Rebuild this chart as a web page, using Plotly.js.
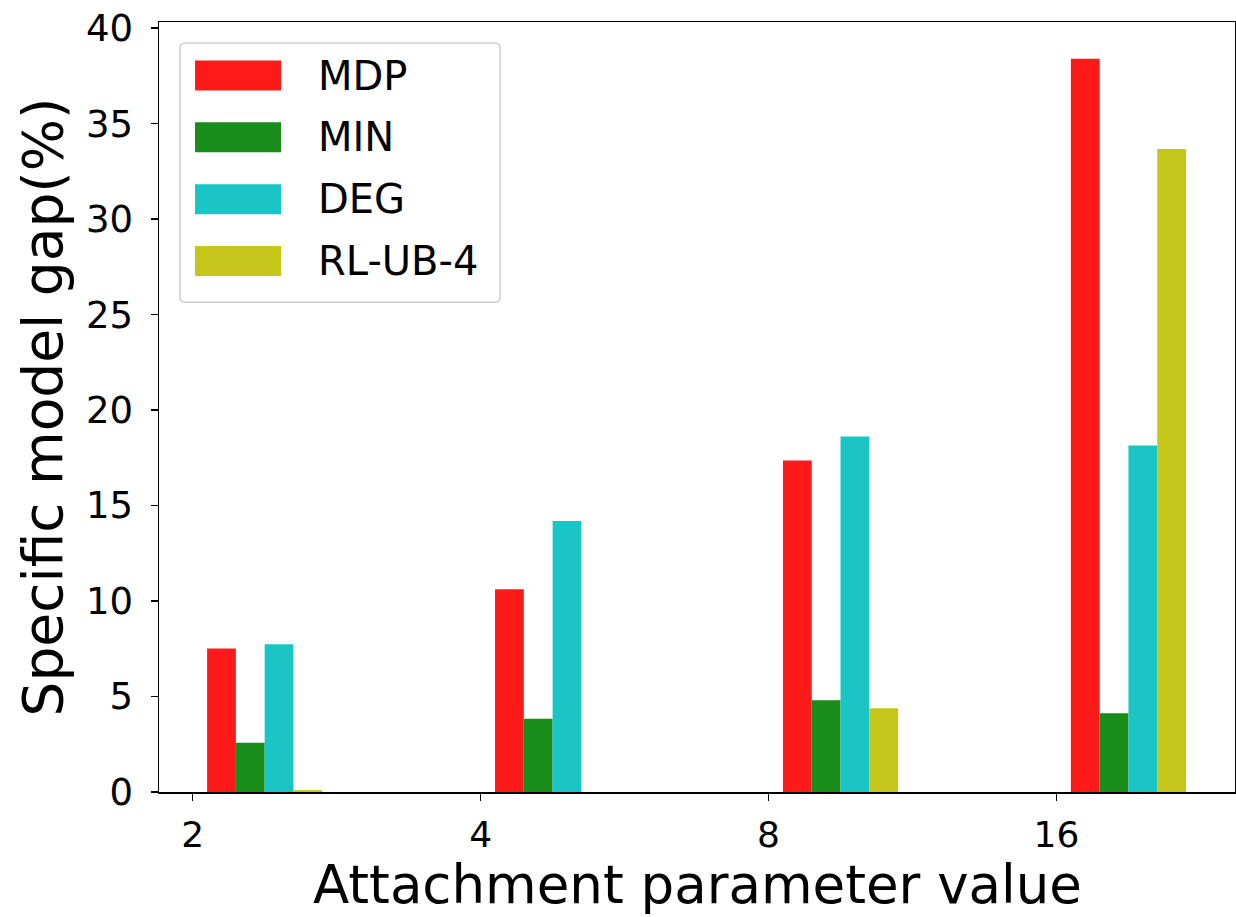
<!DOCTYPE html>
<html>
<head>
<meta charset="utf-8">
<script src="https://cdn.plot.ly/plotly-3.0.1.min.js"></script>
<style>
  html, body { margin: 0; padding: 0; background: #fff; }
  #chart { width: 1236px; height: 917px; }
</style>
</head>
<body>
<div id="chart"></div>
<script>
// ---- data ----
const categories = ['2', '4', '8', '16'];
const seriesNames = ['MDP', 'MIN', 'DEG', 'RL-UB-4'];
const mdp  = [7.52, 10.62, 17.36, 38.4];
const minV = [2.58, 3.83, 4.81, 4.13];
const deg  = [7.74, 14.19, 18.62, 18.15];
const rlub = [0.1, 0.0, 4.38, 33.67];
const seriesColors = ['#ff1a1a', '#1a8c1a', '#1ac5c5', '#c5c51a'];
const xTitle = 'Attachment parameter value';
const yTitle = 'Specific model gap(%)';

const seriesValues = [mdp, minV, deg, rlub];
const FONT = 'DejaVu Sans, Verdana, sans-serif';

const barWidth = 0.1;
const traces = seriesValues.map((vals, i) => ({
  type: 'bar',
  name: seriesNames[i],
  x: categories,
  y: vals,
  width: barWidth,
  offset: 0.05 + barWidth * i,
  marker: { color: seriesColors[i], line: { width: 0 } },
  showlegend: false,
  hoverinfo: 'x+y+name'
}));

// custom matplotlib-like legend (wide patches) in paper coordinates
const shapes = [];
const annotations = [];
const lg = { x0: 0.0195, x1: 0.317, y0: 0.636, y1: 0.9727 };
const rx = 0.005, ry = 0.007;
shapes.push({
  type: 'path', xref: 'paper', yref: 'paper',
  path: `M ${lg.x0 + rx} ${lg.y1} L ${lg.x1 - rx} ${lg.y1} Q ${lg.x1} ${lg.y1} ${lg.x1} ${lg.y1 - ry} ` +
        `L ${lg.x1} ${lg.y0 + ry} Q ${lg.x1} ${lg.y0} ${lg.x1 - rx} ${lg.y0} ` +
        `L ${lg.x0 + rx} ${lg.y0} Q ${lg.x0} ${lg.y0} ${lg.x0} ${lg.y0 + ry} ` +
        `L ${lg.x0} ${lg.y1 - ry} Q ${lg.x0} ${lg.y1} ${lg.x0 + rx} ${lg.y1} Z`,
  fillcolor: 'rgba(255,255,255,0.8)',
  line: { color: '#d0d0d0', width: 1.5 },
  layer: 'above'
});
const rowTop = 0.9305, rowStep = 0.0803, patchH = 0.039;
seriesNames.forEach((name, i) => {
  const yc = rowTop - rowStep * i;
  shapes.push({
    type: 'rect', xref: 'paper', yref: 'paper',
    x0: 0.0335, x1: 0.1134, y0: yc - patchH / 2, y1: yc + patchH / 2,
    fillcolor: seriesColors[i], line: { width: 0 }, layer: 'above'
  });
  annotations.push({
    xref: 'paper', yref: 'paper', x: 0.146, y: yc,
    xanchor: 'left', yanchor: 'middle', showarrow: false,
    text: name, font: { family: FONT, size: 40, color: '#000' }
  });
});

// x-axis title placed as an annotation below the tick labels
annotations.push({
  xref: 'paper', yref: 'paper', x: 0.5, y: 0,
  xanchor: 'center', yanchor: 'top', yshift: -60, showarrow: false,
  text: xTitle, font: { family: FONT, size: 53, color: '#000' }
});

const layout = {
  width: 1236, height: 917,
  margin: { l: 159, r: 1, t: 22, b: 125 },
  paper_bgcolor: '#ffffff',
  plot_bgcolor: '#ffffff',
  barmode: 'group',
  font: { family: FONT, color: '#000' },
  xaxis: {
    type: 'category',
    range: [-0.117, 3.62],
    tickvals: categories,
    ticktext: categories,
    showgrid: false, zeroline: false,
    showline: true, linecolor: '#000', linewidth: 1.5, mirror: true,
    ticks: 'outside', ticklen: 7, tickwidth: 1.5, tickcolor: '#000',
    ticklabelstandoff: 3,
    tickfont: { family: FONT, size: 36, color: '#000' }
  },
  yaxis: {
    range: [0, 40.32],
    tickvals: [0, 5, 10, 15, 20, 25, 30, 35, 40],
    showgrid: false, zeroline: false,
    showline: true, linecolor: '#000', linewidth: 1.5, mirror: true,
    ticks: 'outside', ticklen: 7, tickwidth: 1.5, tickcolor: '#000',
    ticklabelstandoff: 10,
    tickfont: { family: FONT, size: 37, color: '#000' },
    title: { text: yTitle, font: { family: FONT, size: 55, color: '#000' }, standoff: 6 }
  },
  shapes: shapes,
  annotations: annotations,
  showlegend: false
};

Plotly.newPlot('chart', traces, layout, { displayModeBar: false, staticPlot: true });
</script>
</body>
</html>
